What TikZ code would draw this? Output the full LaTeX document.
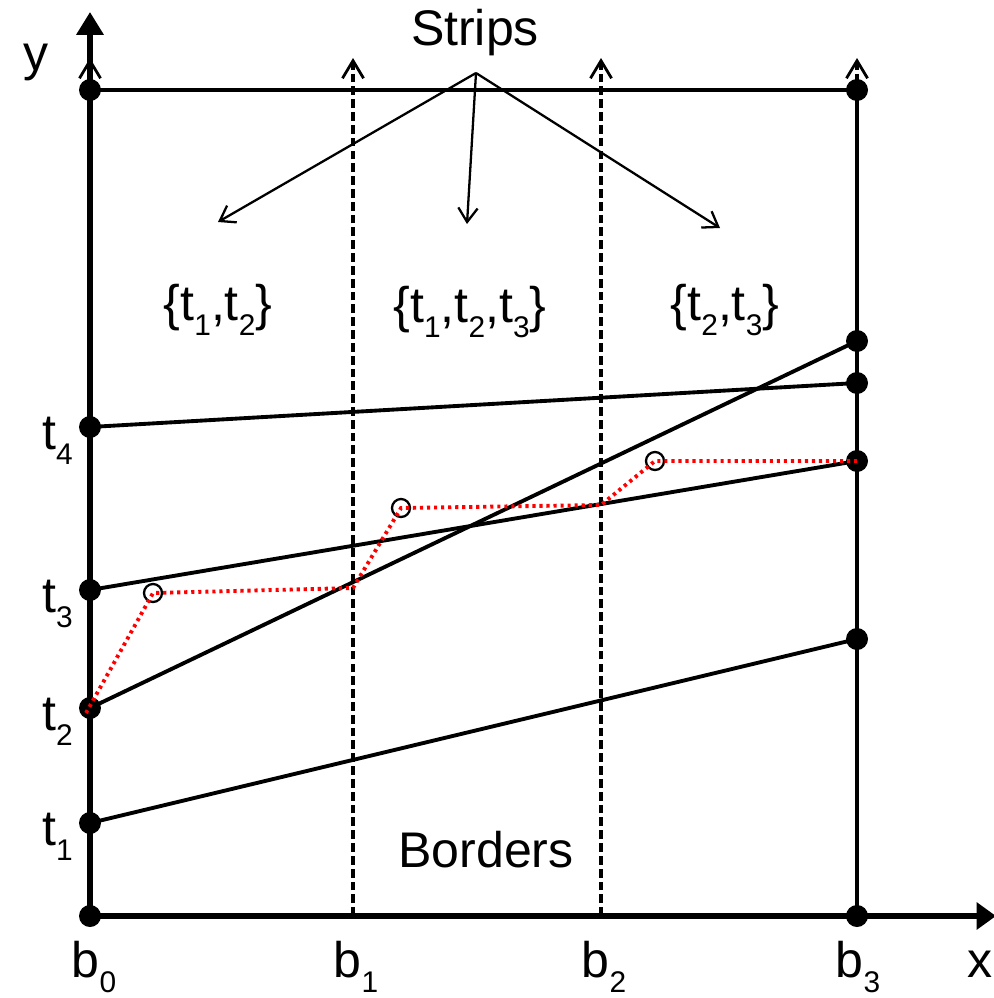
\documentclass[tikz,border=0pt]{standalone}
\usepackage{fontspec}
\setmainfont{Liberation Sans}
\usetikzlibrary{arrows.meta}
\newcommand\subs[1]{\raisebox{-0.3em}{\fontsize{17}{17}\selectfont #1}}

\begin{document}
\begin{tikzpicture}[x=0.02cm,y=-0.02cm,
  dot/.style={circle,fill=black,inner sep=0pt,minimum size=0.44cm},
  ring/.style={circle,draw=black,line width=1.3pt,inner sep=0pt,minimum size=0.36cm},
  lbl/.style={font=\fontsize{28.5}{30}\selectfont,inner sep=0pt},
  border/.style={dash pattern=on 5pt off 2.3pt,line width=2pt,
    -{Straight Barb[length=10pt,width=12pt,line width=1.6pt]}},
  seg/.style={line width=2.2pt},
  path/.style={red,line width=2.2pt,dash pattern=on 1.8pt off 2.2pt},
  point/.style={line width=1.3pt,-{Straight Barb[length=8pt,width=11pt]}}]
\useasboundingbox (0,0) rectangle (994,998);

% corners and end points
\node[dot] (o) at (90,916) {};
\node[dot] (tl) at (90,90) {};
\node[dot] (tr) at (857,90) {};
\node[dot] (br) at (857,916) {};
\node[dot] (t1) at (90,823) {};
\node[dot] (t2) at (90,708) {};
\node[dot] (t3) at (90,590) {};
\node[dot] (t4) at (90,427) {};
\node[dot] (r1) at (857,639) {};
\node[dot] (r2) at (857,341) {};
\node[dot] (r3) at (857,461) {};
\node[dot] (r4) at (857,383) {};

\coordinate (b1) at (353,916);
\coordinate (b2) at (601,916);
\coordinate (top0) at (90,58);
\coordinate (top1) at (353,58);
\coordinate (top2) at (601,58);
\coordinate (top3) at (857,58);
\coordinate (ytip) at (90,12);
\coordinate (xtip) at (996,916);

% borders
\draw[border] (o.center) -- (top0);
\draw[border] (b1) -- (top1);
\draw[border] (b2) -- (top2);
\draw[border] (br.center) -- (top3);

% frame and axes
\draw[seg] (tl.center) -- (tr.center);
\draw[seg] (tr.center) -- (br.center);
\draw[line width=3pt,-{Triangle[length=13pt,width=15pt]}] (o.center) -- (ytip);
\draw[line width=3pt,-{Triangle[length=11pt,width=15pt]}] (o.center) -- (xtip);

% segments
\draw[seg] (t1.center) -- (r1.center);
\draw[seg] (t2.center) -- (r2.center);
\draw[seg] (t3.center) -- (r3.center);
\draw[seg] (t4.center) -- (r4.center);

% upper envelope
\node[ring] (c1) at (153,593) {};
\node[ring] (c2) at (401,508) {};
\node[ring] (c3) at (655,461) {};
\coordinate (k1) at (353,588);
\coordinate (k2) at (601,505);
\draw[path] (86,713) -- (c1.center) -- (k1) -- (c2.center) -- (k2)
  -- (c3.center) -- (r3.center);

% labels
\node[lbl] (strips) at (475,33) {Strips};
\coordinate (apex) at (476,73);
\coordinate (s1) at (218,222);
\coordinate (s2) at (467,224);
\coordinate (s3) at (720,228);
\draw[point] (apex) -- (s1);
\draw[point] (apex) -- (s2);
\draw[point] (apex) -- (s3);

\node[lbl] (set1) at (218,310) {\{t\subs{1},t\subs{2}\}};
\node[lbl] (set2) at (470,312) {\{t\subs{1},t\subs{2},t\subs{3}\}};
\node[lbl] (set3) at (725,310) {\{t\subs{2},t\subs{3}\}};
\node[lbl] (borders) at (486,850) {Borders};

\node[lbl,anchor=base east] (l4) at (73,449) {t\subs{4}};
\node[lbl,anchor=base east] (l3) at (73,612) {t\subs{3}};
\node[lbl,anchor=base east] (l2) at (73,730) {t\subs{2}};
\node[lbl,anchor=base east] (l1) at (73,845) {t\subs{1}};

\node[lbl,anchor=base] (lb0) at (94,977) {b\subs{0}};
\node[lbl,anchor=base] (lb1) at (356,977) {b\subs{1}};
\node[lbl,anchor=base] (lb2) at (604,977) {b\subs{2}};
\node[lbl,anchor=base] (lb3) at (858,977) {b\subs{3}};
\node[lbl,anchor=base] (lx) at (980,977) {x};
\node[lbl,anchor=base] (ly) at (36,70) {y};
\end{tikzpicture}
\end{document}
